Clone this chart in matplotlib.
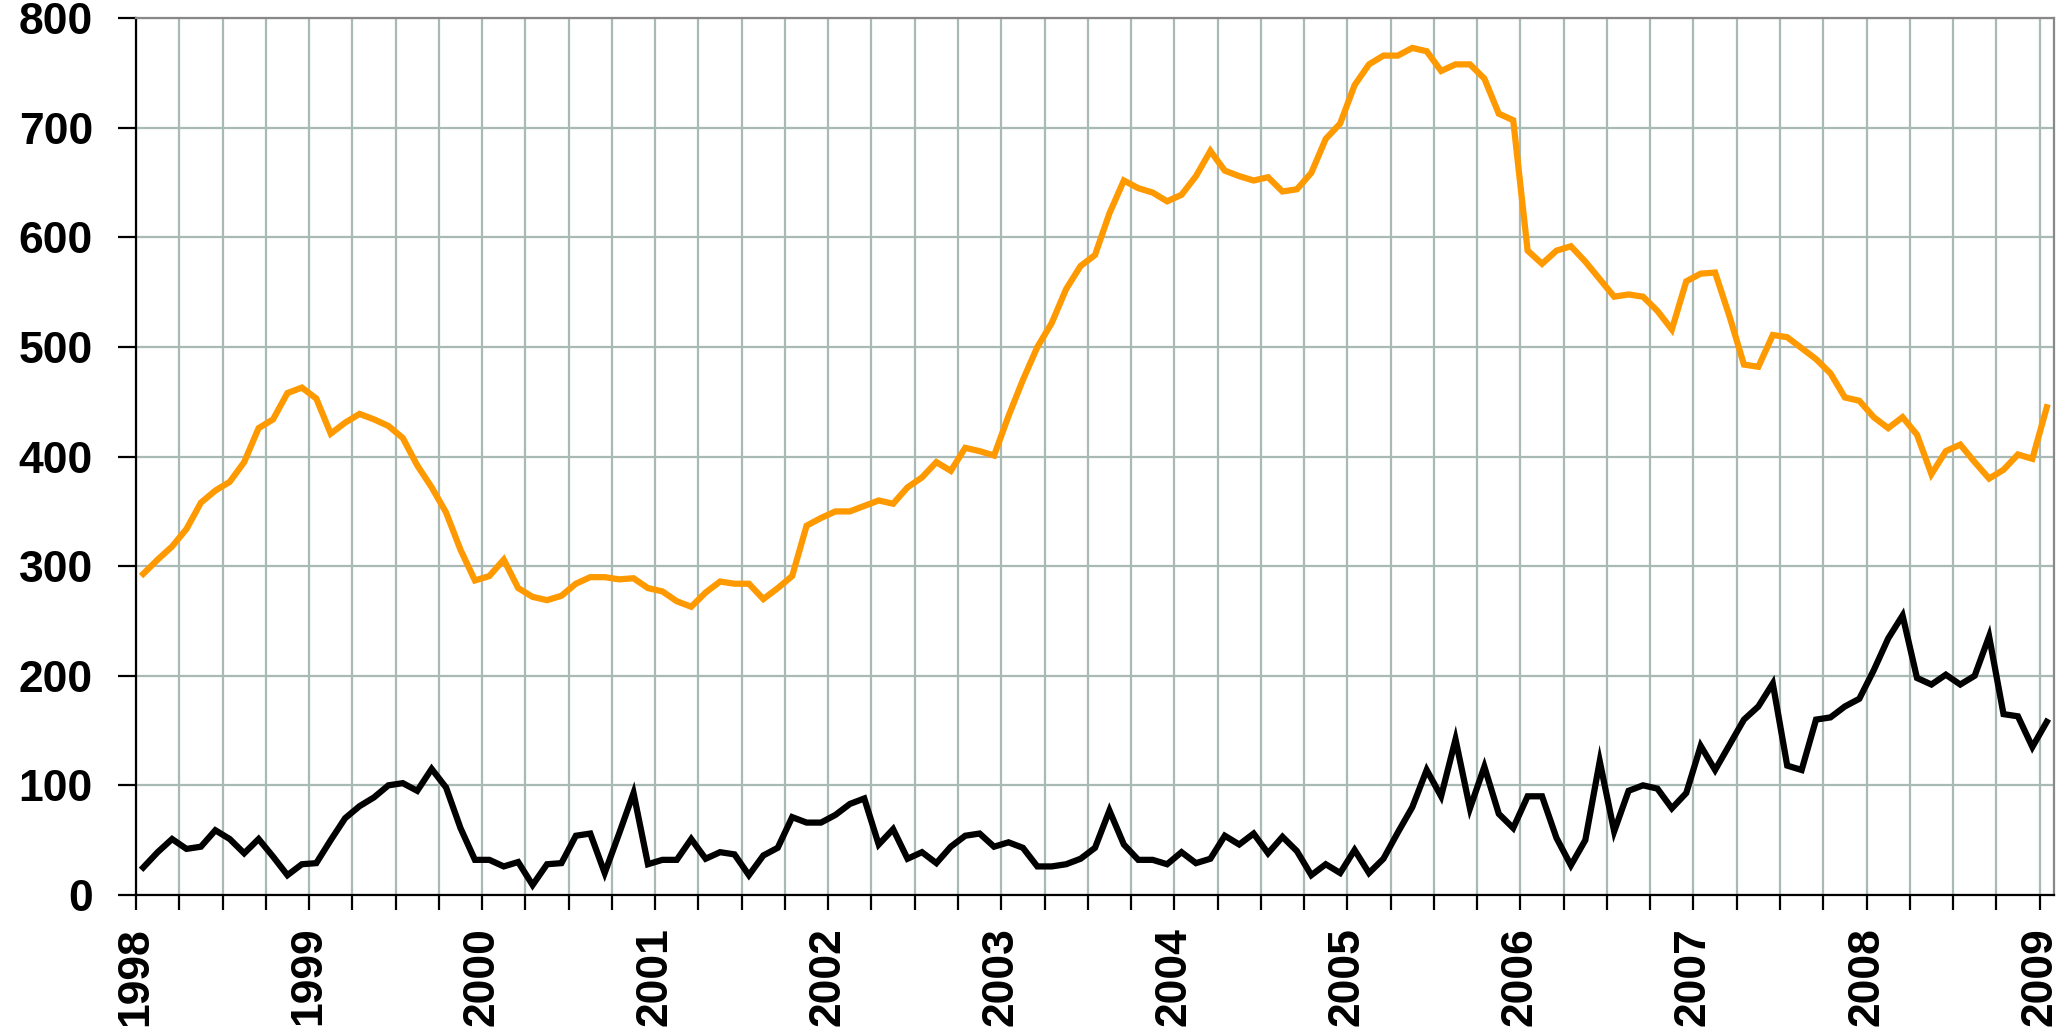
import matplotlib
matplotlib.use("Agg")
import matplotlib.pyplot as plt
import numpy as np

# ================================
# Dados mensais (jan/1998 - jan/2009)
# ================================
anos = ['1998', '1999', '2000', '2001', '2002', '2003', '2004', '2005',
        '2006', '2007', '2008', '2009']

serie_laranja = [
    293, 306, 318, 334, 358, 369, 377, 395, 426, 434, 458, 463,   # 1998
    453, 421, 431, 439, 434, 428, 417, 392, 372, 349, 315, 287,   # 1999
    291, 306, 280, 272, 269, 273, 284, 290, 290, 288, 289, 280,   # 2000
    277, 268, 263, 276, 286, 284, 284, 270, 280, 291, 337, 344,   # 2001
    350, 350, 355, 360, 357, 372, 381, 395, 387, 408, 405, 401,   # 2002
    437, 470, 500, 522, 553, 574, 584, 622, 652, 645, 641, 633,   # 2003
    639, 656, 679, 661, 656, 652, 655, 642, 644, 659, 690, 704,   # 2004
    739, 758, 766, 766, 773, 770, 752, 758, 758, 745, 713, 707,   # 2005
    588, 576, 588, 592, 578, 562, 546, 548, 546, 533, 516, 560,   # 2006
    567, 568, 528, 484, 482, 511, 509, 499, 489, 476, 454, 451,   # 2007
    436, 426, 436, 420, 384, 405, 411, 395, 380, 388, 402, 398,   # 2008
    445,                                                          # 2009
]

serie_preta = [
    25, 39, 51, 42, 44, 59, 51, 38, 51, 35, 18, 28,               # 1998
    29, 50, 70, 81, 89, 100, 102, 95, 115, 98, 61, 32,            # 1999
    32, 26, 30, 9, 28, 29, 54, 56, 20, 56, 93, 28,                # 2000
    32, 32, 51, 33, 39, 37, 18, 36, 43, 71, 66, 66,               # 2001
    73, 83, 88, 46, 60, 33, 39, 29, 44, 54, 56, 44,               # 2002
    48, 43, 26, 26, 28, 33, 43, 77, 46, 32, 32, 28,               # 2003
    39, 29, 33, 54, 46, 56, 38, 53, 40, 18, 28, 20,               # 2004
    41, 20, 33, 57, 80, 114, 90, 142, 79, 117, 74, 61,            # 2005
    90, 90, 52, 27, 50, 122, 58, 95, 100, 97, 79, 93,             # 2006
    136, 114, 137, 160, 172, 193, 118, 114, 160, 162, 172, 179,   # 2007
    205, 234, 255, 198, 192, 201, 192, 200, 236, 165, 163, 135,   # 2008
    158,                                                          # 2009
]

# ================================
# Gráfico
# ================================
n = len(serie_laranja)
x = np.arange(n) + 0.5   # pontos no meio de cada mês

fig = plt.figure(figsize=(20.61, 10.31), dpi=100)
ax = fig.add_axes([0.066, 0.132, 0.9306, 0.8502])

ax.plot(x, serie_laranja, color='#FF9900', linewidth=4.5, solid_joinstyle='miter', zorder=3)
ax.plot(x, serie_preta, color='black', linewidth=4.5, solid_joinstyle='miter', zorder=3)

ax.set_xlim(0, n)
ax.set_ylim(0, 800)

# ticks trimestrais, rótulo só no início do ano
ticks_x = np.arange(0, n, 3)
ax.set_xticks(ticks_x)
ax.set_xticklabels([anos[t // 12] if t % 12 == 0 else '' for t in ticks_x],
                   rotation=90)
ax.set_yticks(np.arange(0, 801, 100))

ax.grid(True, color='#a9bab6', linewidth=1.6, zorder=0)
ax.set_axisbelow(True)

for lbl in ax.get_xticklabels() + ax.get_yticklabels():
    lbl.set_fontfamily('Liberation Sans')
    lbl.set_fontweight('bold')
    lbl.set_fontsize(32)

ax.tick_params(axis='y', length=13, width=1.6, pad=18, color='black')
ax.tick_params(axis='x', length=11, width=1.6, pad=12, color='black')

ax.spines['left'].set_color('black')
ax.spines['bottom'].set_color('black')
ax.spines['left'].set_linewidth(1.6)
ax.spines['bottom'].set_linewidth(1.6)
ax.spines['top'].set_color('#888888')
ax.spines['right'].set_color('#888888')
ax.spines['top'].set_linewidth(1.6)
ax.spines['right'].set_linewidth(1.6)

fig.savefig('out.png', dpi=100)
